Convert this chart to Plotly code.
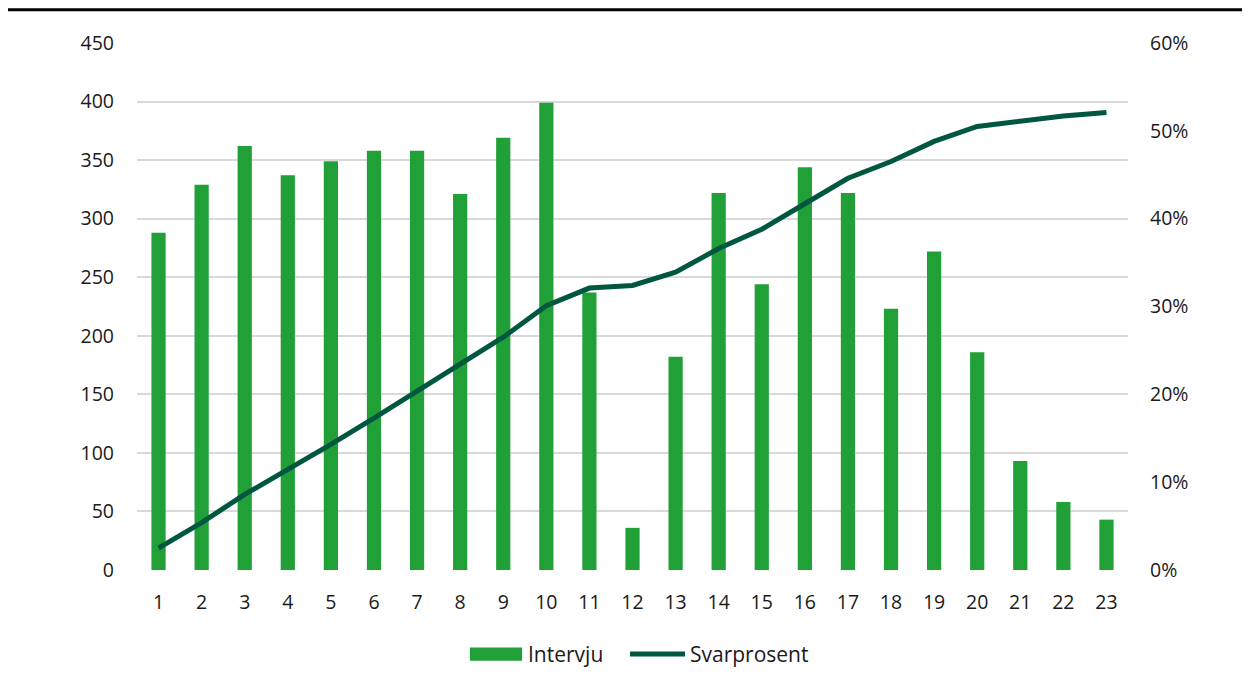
import plotly.graph_objects as go

days = [str(i) for i in range(1, 24)]
intervju = [288, 329, 362, 337, 349, 358, 358, 321, 369, 399, 237, 36, 182,
            322, 244, 344, 322, 223, 272, 186, 93, 58, 43]
svarprosent = [0.025, 0.054, 0.086, 0.114, 0.143, 0.173, 0.204, 0.234, 0.265,
               0.301, 0.321, 0.324, 0.339, 0.366, 0.388, 0.417, 0.446, 0.465,
               0.488, 0.505, 0.511, 0.517, 0.521]
left_ticks = list(range(0, 451, 50))
right_ticks = [0, 0.1, 0.2, 0.3, 0.4, 0.5, 0.6]
legend_names = ["Intervju", "Svarprosent"]

FONT = "Open Sans"
TXT = "#1a1a1a"
BAR_COLOR = "#21a038"
LINE_COLOR = "#00573f"
FS = 19.5
LFS = 21

fig = go.Figure()
fig.add_trace(go.Bar(x=days, y=intervju, name=legend_names[0],
                     marker=dict(color=BAR_COLOR, line=dict(width=0)),
                     yaxis="y"))
fig.add_trace(go.Scatter(x=days, y=svarprosent, name=legend_names[1],
                         mode="lines", line=dict(color=LINE_COLOR, width=5),
                         yaxis="y2"))

# custom legend (wide rectangle / line symbols as in the reference)
ly = -0.1594
shapes = [
    dict(type="line", xref="paper", yref="paper", x0=-0.2, x1=1.2,
         y0=1.063, y1=1.063, line=dict(color="black", width=3)),
    dict(type="rect", xref="paper", yref="paper", x0=0.336, x1=0.3885,
         y0=-0.172, y1=-0.147, fillcolor=BAR_COLOR, line=dict(width=0)),
    dict(type="line", xref="paper", yref="paper", x0=0.4975, x1=0.553,
         y0=ly, y1=ly, line=dict(color=LINE_COLOR, width=5)),
]
annotations = [
    dict(xref="paper", yref="paper", x=0.3925, y=ly, text=legend_names[0],
         showarrow=False, xanchor="left", yanchor="middle",
         font=dict(family=FONT, size=LFS, color=TXT)),
    dict(xref="paper", yref="paper", x=0.5555, y=ly, text=legend_names[1],
         showarrow=False, xanchor="left", yanchor="middle",
         font=dict(family=FONT, size=LFS, color=TXT)),
]

fig.update_layout(
    width=1234, height=675,
    paper_bgcolor="white", plot_bgcolor="white",
    margin=dict(l=129, r=114, t=35, b=113),
    font=dict(family=FONT, size=FS, color=TXT),
    bargap=0.67,
    showlegend=False,
    xaxis=dict(type="category", showgrid=False, showline=False, ticks="",
               ticklabelstandoff=18, tickfont=dict(size=FS, color=TXT)),
    yaxis=dict(range=[0, 450], tickvals=left_ticks, showgrid=True,
               gridcolor="#d9d9d9", gridwidth=1.5, zeroline=False,
               showline=False, ticks="", ticklabelstandoff=22,
               tickfont=dict(size=FS, color=TXT)),
    yaxis2=dict(range=[0, 0.6], tickvals=right_ticks, tickformat=".0%",
                overlaying="y", side="right", showgrid=False, zeroline=False,
                showline=False, ticks="", ticklabelstandoff=21,
                tickfont=dict(size=FS, color=TXT)),
    shapes=shapes,
    annotations=annotations,
)

fig.write_html("out.html")
